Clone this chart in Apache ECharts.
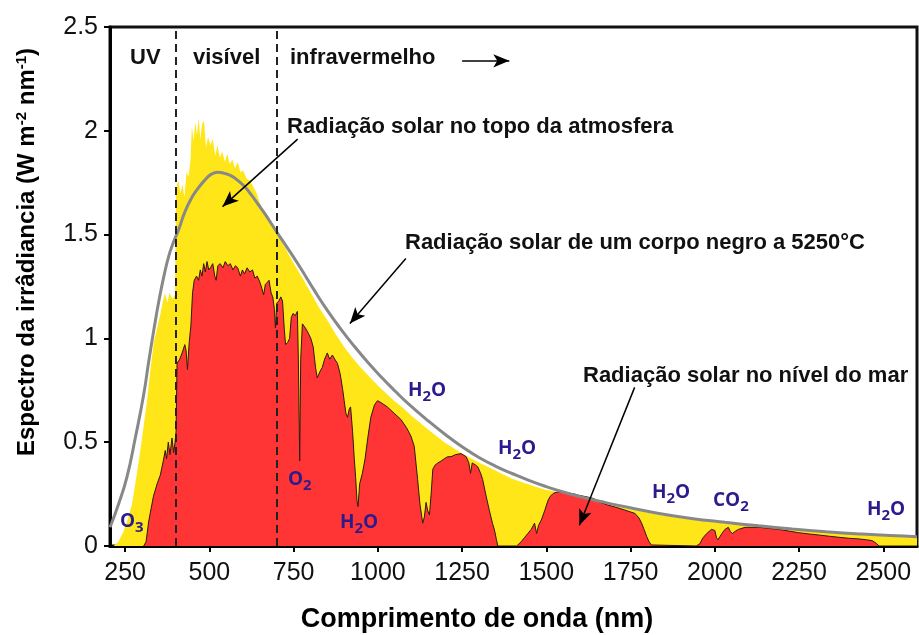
<!DOCTYPE html>
<html>
<head>
<meta charset="utf-8">
<script src="https://cdn.jsdelivr.net/npm/echarts@6/dist/echarts.min.js"></script>
<style>
html, body { margin: 0; padding: 0; background: #fff; }
#spectrumChart { width: 919px; height: 635px; }
</style>
</head>
<body>
<div id="spectrumChart"></div>
<script>
const xTicks = [250, 500, 750, 1000, 1250, 1500, 1750, 2000, 2250, 2500];
const yTicks = [0, 0.5, 1, 1.5, 2, 2.5];

// comprimento de onda (nm), irradiância (W m-2 nm-1)
const topOfAtmosphere = [
  [215, 0], [230, 0.02], [245, 0.07], [258, 0.13], [270, 0.2], [283, 0.33], [295, 0.46],
  [305, 0.58], [315, 0.7], [325, 0.85], [335, 0.98], [345, 1.05], [355, 1.12], [362, 1.18],
  [368, 1.22], [375, 1.17], [382, 1.22], [390, 1.19], [398, 1.21],
  [401, 1.72], [408, 1.76], [414, 1.7], [420, 1.74], [426, 1.68], [432, 1.8], [438, 1.78],
  [444, 1.86], [448, 2.02], [453, 1.95], [458, 2.04], [463, 1.98], [468, 2.06], [473, 1.96],
  [478, 2.03], [484, 2.05], [490, 1.92], [496, 1.97], [503, 1.93], [510, 1.96], [517, 1.88],
  [524, 1.93], [531, 1.87], [538, 1.9], [546, 1.85], [553, 1.89], [560, 1.84], [568, 1.86],
  [576, 1.82], [584, 1.85], [592, 1.8], [600, 1.81], [610, 1.77], [620, 1.76], [630, 1.73],
  [640, 1.7], [652, 1.64], [665, 1.61], [678, 1.57], [690, 1.54], [700, 1.51],
  [720, 1.45], [751, 1.36], [780, 1.28], [801, 1.22], [825, 1.15], [850, 1.087], [875, 1.02],
  [900, 0.958], [925, 0.905], [949, 0.86], [975, 0.815], [999, 0.774], [1025, 0.735],
  [1048, 0.7], [1075, 0.665], [1098, 0.63], [1150, 0.56], [1197, 0.5], [1250, 0.445],
  [1297, 0.405], [1350, 0.362], [1396, 0.325], [1450, 0.295], [1495, 0.272], [1550, 0.255],
  [1594, 0.235], [1650, 0.212], [1733, 0.182], [1832, 0.15], [1932, 0.127], [2031, 0.108],
  [2130, 0.092], [2229, 0.078], [2328, 0.065], [2428, 0.054], [2520, 0.046], [2600, 0.04]
];

const seaLevel = [
  [305, 0], [312, 0.02], [320, 0.12], [334, 0.24], [345, 0.3], [354, 0.34], [362, 0.4],
  [369, 0.46], [373, 0.42], [378, 0.5], [383, 0.44], [389, 0.52], [394, 0.45], [398, 0.5],
  [401, 0.55], [404, 0.88], [412, 0.9], [419, 0.93], [427, 0.97], [431, 0.94], [435, 0.85],
  [440, 0.98], [445, 1.06], [450, 1.22], [455, 1.28], [462, 1.3], [468, 1.28], [473, 1.33],
  [478, 1.3], [483, 1.36], [488, 1.32], [493, 1.37], [498, 1.33], [503, 1.34], [510, 1.36],
  [516, 1.3], [520, 1.28], [525, 1.35], [532, 1.36], [540, 1.34], [547, 1.37], [555, 1.35],
  [562, 1.36], [570, 1.33], [577, 1.35], [584, 1.34], [592, 1.3], [598, 1.33], [604, 1.31],
  [612, 1.34], [620, 1.32], [628, 1.33], [635, 1.29], [642, 1.3], [650, 1.27], [656, 1.24],
  [661, 1.21], [666, 1.26], [672, 1.27], [677, 1.28], [683, 1.22], [688, 1.2], [693, 1.14],
  [696, 1.05], [700, 1.17], [706, 1.18], [712, 1.2], [717, 1.18], [722, 1.05], [726, 0.97],
  [732, 0.98], [738, 1.0], [743, 1.1], [748, 1.12], [755, 1.11], [761, 1.13], [764, 0.9],
  [768, 0.41], [771, 0.9], [776, 1.07], [785, 1.05], [795, 1.02], [801, 1.0], [808, 0.96],
  [815, 0.86], [820, 0.81], [828, 0.84], [835, 0.86], [842, 0.9], [850, 0.93], [857, 0.9],
  [865, 0.92], [872, 0.9], [880, 0.88], [888, 0.83], [895, 0.76], [900, 0.7], [905, 0.64],
  [910, 0.62], [915, 0.66], [919, 0.67], [925, 0.55], [930, 0.42], [934, 0.33], [938, 0.22],
  [941, 0.19], [946, 0.3], [954, 0.35], [962, 0.42], [970, 0.52], [979, 0.62], [990, 0.68],
  [999, 0.7], [1010, 0.69], [1028, 0.67], [1048, 0.64], [1068, 0.61], [1085, 0.57],
  [1098, 0.53], [1108, 0.48], [1113, 0.4], [1118, 0.32], [1125, 0.2], [1133, 0.11],
  [1138, 0.14], [1143, 0.21], [1148, 0.17], [1153, 0.15], [1158, 0.25], [1163, 0.37],
  [1170, 0.39], [1178, 0.4], [1188, 0.41], [1197, 0.42], [1207, 0.43], [1217, 0.43],
  [1230, 0.44], [1247, 0.445], [1262, 0.43], [1270, 0.4], [1275, 0.35], [1280, 0.4],
  [1290, 0.39], [1297, 0.38], [1305, 0.35], [1311, 0.32], [1320, 0.25], [1331, 0.17],
  [1340, 0.11], [1346, 0.077], [1352, 0.03], [1356, 0], [1412, 0], [1425, 0.02],
  [1435, 0.04], [1445, 0.06], [1455, 0.08], [1465, 0.11], [1471, 0.06], [1477, 0.1],
  [1485, 0.125], [1495, 0.17], [1505, 0.22], [1512, 0.24], [1520, 0.253], [1532, 0.26],
  [1545, 0.262], [1560, 0.258], [1574, 0.253], [1585, 0.25], [1594, 0.245], [1610, 0.24],
  [1625, 0.235], [1640, 0.229], [1660, 0.21], [1683, 0.197], [1710, 0.185], [1733, 0.173],
  [1763, 0.157], [1775, 0.135], [1783, 0.109], [1790, 0.08], [1798, 0.045], [1805, 0.02],
  [1812, 0.005], [1815, 0], [1945, 0], [1955, 0.01], [1965, 0.04], [1976, 0.06], [1990, 0.08],
  [2000, 0.075], [2005, 0.04], [2009, 0.03], [2015, 0.045], [2021, 0.06], [2030, 0.08],
  [2040, 0.09], [2046, 0.07], [2052, 0.06], [2060, 0.07], [2070, 0.08], [2090, 0.09],
  [2130, 0.09], [2160, 0.085], [2189, 0.08], [2220, 0.072], [2249, 0.064], [2280, 0.058],
  [2308, 0.053], [2340, 0.047], [2368, 0.042], [2400, 0.037], [2428, 0.034], [2450, 0.03],
  [2467, 0.026], [2480, 0.012], [2487, 0], [2600, 0]
];

const blackBody = [
  [205, 0.09], [230, 0.2], [255, 0.33], [280, 0.52], [305, 0.73], [320, 0.89], [335, 1.04],
  [350, 1.18], [365, 1.3], [380, 1.4], [395, 1.47], [410, 1.53], [425, 1.6], [445, 1.67],
  [465, 1.72], [485, 1.76], [505, 1.79], [525, 1.8], [545, 1.795], [565, 1.783], [585, 1.76],
  [605, 1.73], [625, 1.69], [645, 1.645], [665, 1.6], [685, 1.55], [705, 1.5], [730, 1.44],
  [770, 1.34], [810, 1.235], [850, 1.135], [890, 1.045], [930, 0.962], [970, 0.885],
  [1010, 0.814], [1050, 0.748], [1090, 0.686], [1150, 0.602], [1200, 0.537], [1250, 0.478],
  [1300, 0.426], [1350, 0.384], [1400, 0.348], [1450, 0.315], [1500, 0.286], [1550, 0.26],
  [1600, 0.238], [1665, 0.213], [1730, 0.19], [1830, 0.158], [1930, 0.133], [2030, 0.114],
  [2130, 0.097], [2230, 0.082], [2330, 0.069], [2430, 0.058], [2520, 0.05], [2600, 0.045]
];

// limites UV / visível / infravermelho
const bandEdges = [400, 700];

const YELLOW = "#ffe619";
const RED = "#ff3535";
const INK = "#2d1b8e";
const FONT = "'Liberation Sans', Arial, sans-serif";

// setas das anotações, em coordenadas dos eixos
const arrows = [
  [[762, 1.96], [539, 1.635]],
  [[1083, 1.385], [917, 1.072]],
  [[1762, 0.764], [1598, 0.1]],
  [[1250, 2.337], [1390, 2.337]],
];

const notes = [
  { text: "UV", x: 130, y: 58 },
  { text: "visível", x: 193, y: 58 },
  { text: "infravermelho", x: 290, y: 58 },
  { text: "Radiação solar no topo da atmosfera", x: 287, y: 127 },
  { text: "Radiação solar de um corpo negro a 5250°C", x: 405, y: 243 },
  { text: "Radiação solar no nível do mar", x: 583, y: 376 },
];

const molecules = [
  { text: "O{s|3}", x: 120, y: 522 },
  { text: "O{s|2}", x: 288, y: 480 },
  { text: "H{s|2}O", x: 340, y: 523 },
  { text: "H{s|2}O", x: 408, y: 391 },
  { text: "H{s|2}O", x: 498, y: 449 },
  { text: "H{s|2}O", x: 652, y: 493 },
  { text: "CO{s|2}", x: 713, y: 501 },
  { text: "H{s|2}O", x: 867, y: 510 },
];

const chart = echarts.init(document.getElementById("spectrumChart"));

const graphic = [
  ...notes.map((n) => ({
    type: "text",
    z: 100,
    x: n.x,
    y: n.y,
    style: {
      text: n.text,
      fill: "#111",
      fontFamily: FONT,
      fontWeight: "bold",
      fontSize: 22,
      verticalAlign: "middle",
    },
  })),
  ...molecules.map((m) => ({
    type: "text",
    z: 100,
    x: m.x,
    y: m.y,
    style: {
      text: m.text,
      fill: INK,
      fontFamily: "'Open Sans', sans-serif",
      fontWeight: "bold",
      fontSize: 19,
      verticalAlign: "middle",
      rich: {
        s: { fontSize: 15, fontWeight: "bold", fontFamily: "'Open Sans', sans-serif", fill: INK, padding: [11, 0, 0, 0] },
      },
    },
  })),
  {
    type: "text",
    z: 100,
    x: 27,
    y: 252,
    rotation: Math.PI / 2,
    style: {
      text: "Espectro da irrâdiancia (W m{sup|-2} nm{sup|-1})",
      fill: "#000",
      fontFamily: FONT,
      fontWeight: "bold",
      fontSize: 24,
      align: "center",
      verticalAlign: "middle",
      rich: {
        sup: { fontSize: 15, fontWeight: "bold", fontFamily: FONT, fill: "#000", padding: [0, 0, 10, 0] },
      },
    },
  },
  {
    type: "text",
    z: 100,
    x: 477,
    y: 620,
    style: {
      text: "Comprimento de onda (nm)",
      fill: "#000",
      fontFamily: FONT,
      fontWeight: "bold",
      fontSize: 27,
      align: "center",
      verticalAlign: "middle",
    },
  },
];

const option = {
  animation: false,
  backgroundColor: "#fff",
  grid: {
    left: 110,
    top: 27,
    right: 2,
    bottom: 89,
    show: true,
    borderColor: "#111",
    borderWidth: 3,
    containLabel: false,
  },
  xAxis: {
    type: "value",
    min: 205,
    max: 2600,
    splitLine: { show: false },
    axisLine: { show: true, onZero: false, lineStyle: { color: "#000", width: 3 } },
    axisTick: { show: true, length: 6, lineStyle: { color: "#000", width: 2 }, customValues: xTicks },
    axisLabel: {
      customValues: xTicks,
      color: "#111",
      fontFamily: FONT,
      fontSize: 25,
      margin: 15,
      formatter: (v) => String(v),
    },
  },
  yAxis: {
    type: "value",
    min: 0,
    max: 2.5,
    interval: 0.5,
    splitLine: { show: false },
    axisLine: { show: true, lineStyle: { color: "#000", width: 3 } },
    axisTick: { show: true, length: 6, lineStyle: { color: "#000", width: 2 } },
    axisLabel: {
      color: "#111",
      fontFamily: FONT,
      fontSize: 25,
      margin: 12,
      formatter: (v) => (yTicks.includes(v) ? String(v) : ""),
    },
  },
  graphic: graphic,
  series: [
    {
      type: "line",
      name: "Radiação solar no topo da atmosfera",
      data: topOfAtmosphere,
      showSymbol: false,
      silent: true,
      lineStyle: { width: 0 },
      areaStyle: { color: YELLOW, opacity: 1 },
      z: 1,
    },
    {
      type: "line",
      name: "Radiação solar no nível do mar",
      data: seaLevel,
      showSymbol: false,
      silent: true,
      lineStyle: { width: 1, color: "#2a1a10" },
      areaStyle: { color: RED, opacity: 1 },
      z: 2,
    },
    {
      type: "line",
      name: "Radiação solar de um corpo negro a 5250°C",
      data: blackBody,
      smooth: true,
      showSymbol: false,
      silent: true,
      lineStyle: { width: 3, color: "#888" },
      z: 3,
      markLine: {
        silent: true,
        symbol: "none",
        label: { show: false },
        lineStyle: { type: [8, 5], color: "#222", width: 2 },
        data: bandEdges.map((x) => ({ xAxis: x })),
      },
    },
    {
      type: "line",
      name: "setas",
      data: [],
      z: 4,
      markLine: {
        silent: true,
        symbol: ["none", "arrow"],
        symbolSize: [10, 16],
        label: { show: false },
        lineStyle: { type: "solid", color: "#000", width: 1.5 },
        data: arrows.map((a) => [{ coord: a[0] }, { coord: a[1] }]),
      },
    },
  ],
};

chart.setOption(option);
</script>
</body>
</html>
